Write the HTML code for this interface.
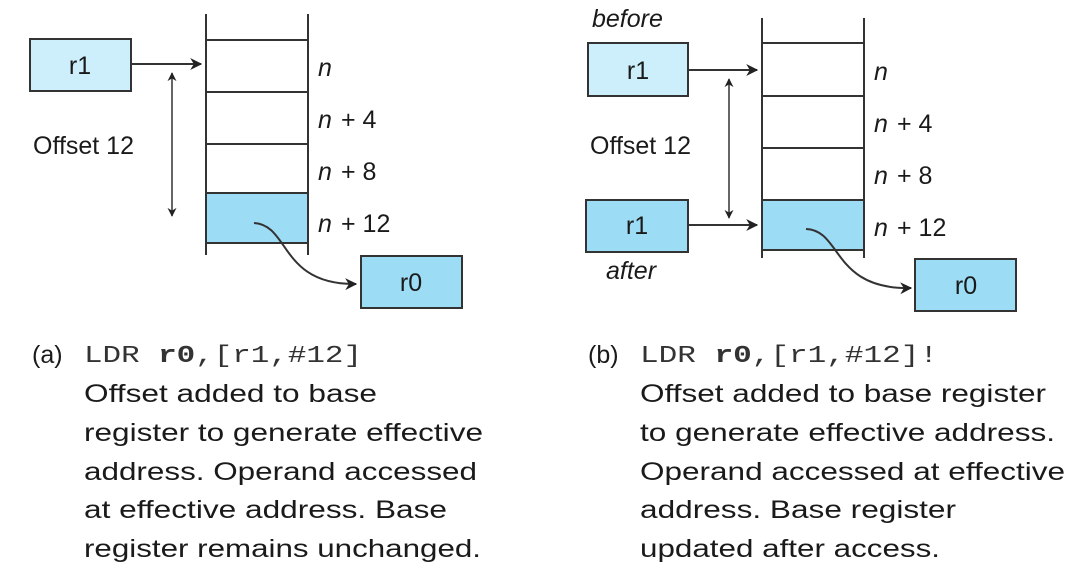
<!DOCTYPE html>
<html><head><meta charset="utf-8"><style>
html,body{margin:0;padding:0;background:#fff;}
svg{display:block}
text{font-family:"Liberation Sans",sans-serif;fill:#1a1a1a}
.m{font-family:"Liberation Mono",monospace;fill:#333}
</style></head><body>
<svg width="1081" height="565" viewBox="0 0 1081 565" xmlns="http://www.w3.org/2000/svg">
<defs>
<marker id="a" viewBox="0 0 10 10" refX="9" refY="5" markerWidth="12" markerHeight="12" orient="auto-start-reverse" markerUnits="userSpaceOnUse"><path d="M0,0 L10,5 L0,10 L3,5 z" fill="#222"/></marker>
<marker id="s" viewBox="0 0 10 10" refX="9" refY="5" markerWidth="9" markerHeight="10" orient="auto-start-reverse" markerUnits="userSpaceOnUse"><path d="M0,0 L10,5 L0,10 L3,5 z" fill="#222"/></marker>
</defs>
<g stroke="#333" stroke-width="2" fill="none">
<!-- left -->
<rect x="206" y="193" width="102" height="50" fill="#9ddcf5" stroke="none"/>
<line x1="206" y1="14" x2="206" y2="255"/><line x1="308" y1="14" x2="308" y2="255"/>
<line x1="206" y1="40" x2="308" y2="40"/><line x1="206" y1="92" x2="308" y2="92"/>
<line x1="206" y1="144" x2="308" y2="144"/><line x1="206" y1="193" x2="308" y2="193"/>
<line x1="206" y1="243" x2="308" y2="243"/>
<rect x="30" y="39" width="101" height="52" fill="#cdeefb"/>
<rect x="361" y="256" width="101" height="52" fill="#9ddcf5"/>
<line x1="131" y1="64" x2="201" y2="64" marker-end="url(#a)"/>
<line x1="172" y1="73" x2="172" y2="216" stroke-width="1.5" marker-start="url(#s)" marker-end="url(#s)"/>
<path d="M254,223 C290,225 280,285 356,284" marker-end="url(#a)"/>
<!-- right -->
<rect x="762" y="200" width="102" height="50" fill="#9ddcf5" stroke="none"/>
<line x1="762" y1="18" x2="762" y2="258"/><line x1="864" y1="18" x2="864" y2="258"/>
<line x1="762" y1="43" x2="864" y2="43"/><line x1="762" y1="96" x2="864" y2="96"/>
<line x1="762" y1="148" x2="864" y2="148"/><line x1="762" y1="200" x2="864" y2="200"/>
<line x1="762" y1="250" x2="864" y2="250"/>
<rect x="588" y="43" width="100" height="53" fill="#cdeefb"/>
<rect x="586" y="200" width="102" height="52" fill="#9ddcf5"/>
<rect x="915" y="259" width="101" height="52" fill="#9ddcf5"/>
<line x1="688" y1="70" x2="757" y2="70" marker-end="url(#a)"/>
<line x1="688" y1="225" x2="757" y2="225" marker-end="url(#a)"/>
<line x1="729" y1="79" x2="729" y2="218" stroke-width="1.5" marker-start="url(#s)" marker-end="url(#s)"/>
<path d="M806,229 C842,230 832,290 911,288" marker-end="url(#a)"/>
</g>
<g font-size="25">
<text x="80" y="74" text-anchor="middle">r1</text>
<text x="411" y="291" text-anchor="middle">r0</text>
<text x="33" y="154">Offset 12</text>
<g font-style="italic"><text x="318" y="76">n</text><text x="318" y="128">n</text><text x="318" y="180">n</text><text x="318" y="232">n</text></g>
<text x="341" y="128">+ 4</text><text x="341" y="180">+ 8</text><text x="341" y="232">+ 12</text>

<text x="638" y="79" text-anchor="middle">r1</text>
<text x="637" y="234" text-anchor="middle">r1</text>
<text x="966" y="294" text-anchor="middle">r0</text>
<text x="590" y="154">Offset 12</text>
<text x="592" y="27" font-style="italic">before</text>
<text x="606" y="279" font-style="italic">after</text>
<g font-style="italic"><text x="874" y="80">n</text><text x="874" y="132">n</text><text x="874" y="184">n</text><text x="874" y="236">n</text></g>
<text x="897" y="132">+ 4</text><text x="897" y="184">+ 8</text><text x="897" y="236">+ 12</text>
</g>
<g font-size="25">
<text x="32" y="363">(a)</text>
<text class="m" x="84" y="362" font-size="24" textLength="278" lengthAdjust="spacingAndGlyphs">LDR <tspan font-weight="bold">r0</tspan>,[r1,#12]</text>
<text x="84" y="402" textLength="293" lengthAdjust="spacingAndGlyphs">Offset added to base</text>
<text x="84" y="441" textLength="399" lengthAdjust="spacingAndGlyphs">register to generate effective</text>
<text x="84" y="480" textLength="393" lengthAdjust="spacingAndGlyphs">address. Operand accessed</text>
<text x="84" y="518" textLength="363" lengthAdjust="spacingAndGlyphs">at effective address. Base</text>
<text x="84" y="557" textLength="397" lengthAdjust="spacingAndGlyphs">register remains unchanged.</text>

<text x="588" y="363">(b)</text>
<text class="m" x="640" y="362" font-size="24" textLength="298" lengthAdjust="spacingAndGlyphs">LDR <tspan font-weight="bold">r0</tspan>,[r1,#12]!</text>
<text x="640" y="402" textLength="406" lengthAdjust="spacingAndGlyphs">Offset added to base register</text>
<text x="640" y="441" textLength="415" lengthAdjust="spacingAndGlyphs">to generate effective address.</text>
<text x="640" y="480" textLength="425" lengthAdjust="spacingAndGlyphs">Operand accessed at effective</text>
<text x="640" y="518" textLength="316" lengthAdjust="spacingAndGlyphs">address. Base register</text>
<text x="640" y="557" textLength="300" lengthAdjust="spacingAndGlyphs">updated after access.</text>
</g>
</svg>
</body></html>
